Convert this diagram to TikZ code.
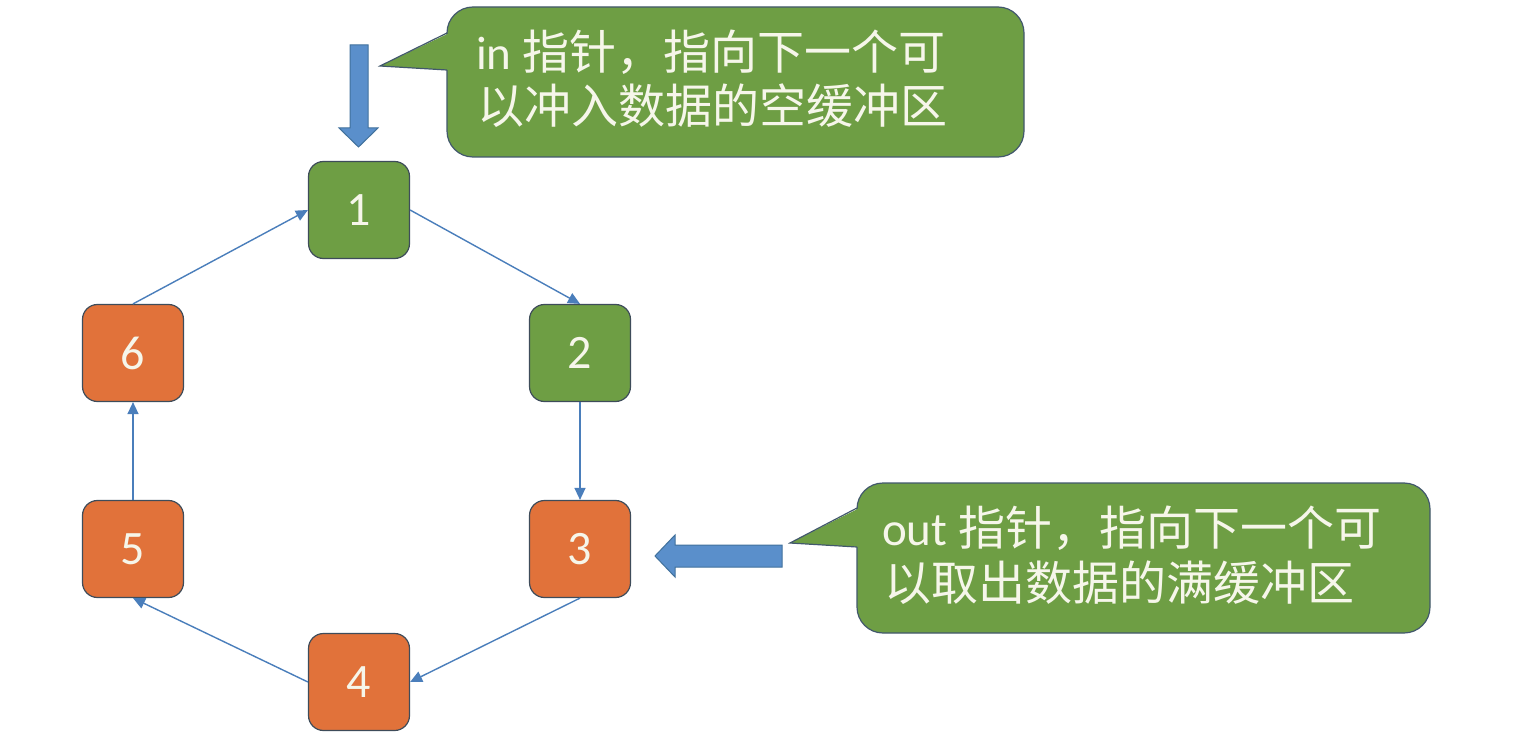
\documentclass[tikz,border=0pt]{standalone}
\usepackage{fontspec}
\setmainfont{Carlito}
\newfontfamily\cjk{Noto Sans CJK SC}
\usetikzlibrary{arrows.meta}
\definecolor{boxgreen}{HTML}{6E9E44}
\definecolor{boxorange}{HTML}{E1723A}
\definecolor{boxline}{HTML}{3E4C5A}
\definecolor{calline}{HTML}{42586C}
\definecolor{txtwhite}{HTML}{F6F6EA}
\definecolor{linkblue}{HTML}{4A7EBB}
\definecolor{bigfill}{HTML}{5A8FCB}
\definecolor{bigline}{HTML}{41719C}
\tikzset{
  buf/.style={draw=boxline, line width=1.2pt, rounded corners=15pt,
    minimum width=101pt, minimum height=97pt, inner sep=0pt,
    text=txtwhite, font=\fontsize{48}{52}\selectfont},
  gbuf/.style={buf, fill=boxgreen},
  obuf/.style={buf, fill=boxorange},
  link/.style={draw=linkblue, line width=1.4pt, -{Triangle[length=12pt,width=11pt]}},
  bigarrow/.style={fill=bigfill, draw=bigline, line width=1pt, line join=miter},
  callbox/.style={draw=calline, line width=1.2pt, fill=boxgreen, rounded corners=26pt},
  calltext/.style={anchor=base west, inner sep=0pt, text=txtwhite, font=\fontsize{47}{54}\selectfont}
}
\begin{document}
\begin{tikzpicture}[x=1pt,y=-1pt]
\useasboundingbox[fill=white] (0,0) rectangle (1527,746);

% buffers
\node[gbuf] (n1) at (359,210) {1};
\node[gbuf] (n2) at (580,353) {2};
\node[obuf] (n3) at (580,549) {3};
\node[obuf] (n4) at (359,682) {4};
\node[obuf] (n5) at (133,549) {5};
\node[obuf] (n6) at (133,353) {6};

% ring connectors
\draw[link] (n1.east) -- (n2.north);
\draw[link] (n2.south) -- (n3.north);
\draw[link] (n3.south) -- (n4.east);
\draw[link] (n4.west) -- (n5.south);
\draw[link] (n5.north) -- (n6.south);
\draw[link] (n6.north) -- (n1.west);

% big block arrows
\draw[bigarrow] (350,45) -- (368,45) -- (368,128) -- (378,128) -- (358.5,147) -- (339,128) -- (350,128) -- cycle;
\draw[bigarrow] (782,545) -- (782,567) -- (675,567) -- (675,577) -- (655,556) -- (675,535) -- (675,545) -- cycle;

% top callout
\draw[callbox] (447,7) rectangle (1024,157);
\fill[boxgreen] (449.5,33) -- (380,66) -- (449.5,70) -- cycle;
\draw[calline, line width=1.2pt, line join=miter] (447,33) -- (380,66) -- (447,70);
\node[calltext] (ta1) at (476,70) {in {\cjk 指针，指向下一个可}};
\node[calltext] (ta2) at (477,124) {\cjk 以冲入数据的空缓冲区};

% bottom callout
\draw[callbox] (857,483) rectangle (1430,633);
\fill[boxgreen] (859.5,508) -- (790,543) -- (859.5,547) -- cycle;
\draw[calline, line width=1.2pt, line join=miter] (857,508) -- (790,543) -- (857,547);
\node[calltext] (tb1) at (882,545) {out {\cjk 指针，指向下一个可}};
\node[calltext] (tb2) at (884,600) {\cjk 以取出数据的满缓冲区};
\end{tikzpicture}
\end{document}
